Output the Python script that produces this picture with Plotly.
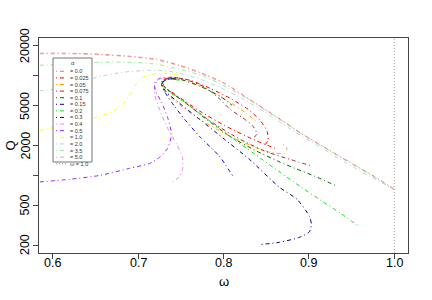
import math
import plotly.graph_objects as go

# ---------------- data ----------------
alpha_labels = ["0.0", "0.025", "0.05", "0.075", "0.1", "0.15", "0.2", "0.3",
                "0.4", "0.5", "1.0", "2.0", "3.5", "5.0"]
alpha_colors = ["#F07070", "#FF0000", "#FFA500", "#A52A2A", "#006400", "#00008B",
                "#00EE00", "#0000FF", "#EE82EE", "#A020F0", "#FFFF00", "#ADD8E6",
                "#90EE90", "#F4A0A0"]

omega_a0000 = [0.58, 0.6199, 0.6550, 0.6901, 0.7216, 0.7485, 0.7719, 0.8012, 0.8304, 0.8596, 0.8889, 0.9181, 0.9474, 0.9766, 1.0]
Q_a0000 = [16890, 16890, 16500, 15760, 14700, 12790, 10880, 8440, 5830, 4020, 2720, 1920, 1360, 980, 726]

omega_a0025 = [0.8604, 0.8370, 0.8053, 0.7725, 0.7468, 0.7304, 0.7281, 0.7397, 0.7608, 0.7842, 0.8077, 0.8288, 0.8428, 0.8510, 0.8521, 0.8463]
Q_a0025 = [1870, 2260, 3050, 4410, 6245, 7870, 9040, 9690, 9040, 7520, 5962, 4620, 3584, 2780, 2260, 1920]

omega_a0050 = [0.8697, 0.8744, 0.8709, 0.8545, 0.8310, 0.7983, 0.7667, 0.7432, 0.7292, 0.7281, 0.7374, 0.7550, 0.7784, 0.8018, 0.8252, 0.8404]
Q_a0050 = [2060, 1870, 1670, 1709, 2010, 2720, 3930, 5560, 7340, 8640, 9470, 9040, 7520, 5830, 4310, 3343]

omega_a0075 = [0.9013, 0.8779, 0.8487, 0.8194, 0.7901, 0.7667, 0.7468, 0.7316, 0.7281, 0.7374, 0.7550, 0.7784, 0.7959, 0.8077, 0.8217, 0.8346, 0.8393, 0.8334]
Q_a0075 = [1260, 1450, 1750, 2310, 3270, 4520, 6100, 7690, 8840, 9690, 9250, 7690, 5830, 4620, 3840, 3120, 2590, 2360]

omega_a0100 = [0.9306, 0.9071, 0.8837, 0.8662, 0.8370, 0.8077, 0.7784, 0.7550, 0.7351, 0.7281, 0.7351, 0.7491, 0.7725, 0.7959, 0.8100]
Q_a0100 = [796, 980, 1180, 1360, 1789, 2470, 3753, 5440, 7180, 8440, 9470, 9250, 7870, 6245, 5070]

omega_a0150 = [0.8444, 0.8655, 0.8889, 0.9006, 0.9029, 0.9006, 0.8861, 0.8655, 0.8304, 0.8012, 0.7719, 0.7485, 0.7333, 0.7275, 0.7333, 0.7462]
Q_a0150 = [203, 213, 239, 272, 323, 389, 576, 760, 1450, 2310, 3670, 5310, 6850, 8250, 9250, 9250]

omega_a0200 = [0.9567, 0.9364, 0.9130, 0.8896, 0.8662, 0.8370, 0.8077, 0.7784, 0.7550, 0.7351, 0.7281, 0.7339, 0.7491]
Q_a0200 = [316, 421, 569, 778, 1076, 1630, 2470, 3840, 5440, 7010, 8250, 9250, 9040]

omega_a0300 = [0.8105, 0.7953, 0.7719, 0.7544, 0.7427, 0.7322, 0.7275, 0.7333, 0.7485]
Q_a0300 = [1000, 1557, 2470, 3670, 4950, 6693, 8250, 9250, 9250]

omega_a0400 = [0.7404, 0.7485, 0.7520, 0.7520, 0.7450, 0.7333, 0.7251, 0.7193, 0.7193, 0.7251, 0.7368]
Q_a0400 = [854, 980, 1150, 1520, 2060, 3120, 4620, 6540, 8050, 9250, 9690]

omega_a0500 = [0.58, 0.6199, 0.6550, 0.6901, 0.7135, 0.7251, 0.7345, 0.7392, 0.7345, 0.7275, 0.7205, 0.7193, 0.7251, 0.7345]
Q_a0500 = [854, 915, 1000, 1180, 1320, 1520, 1870, 2590, 3840, 5440, 7010, 8440, 9470, 9690]

omega_a1000 = [0.58, 0.6082, 0.6316, 0.6550, 0.6725, 0.6842, 0.6924, 0.6982, 0.7053, 0.7158, 0.7310, 0.7485]
Q_a1000 = [2780, 3120, 3500, 3930, 4520, 5440, 6850, 8440, 9690, 10390, 10630, 10150]

omega_a2000 = [0.58, 0.6164, 0.6515, 0.6819, 0.7135, 0.7368, 0.7661, 0.7953, 0.8246, 0.8538, 0.8830, 0.9123, 0.9415, 0.9708, 1.0]
Q_a2000 = [7010, 7690, 9690, 10880, 11400, 11140, 9690, 7700, 5750, 4050, 2760, 1940, 1370, 985, 726]

omega_a3500 = [0.58, 0.6199, 0.6550, 0.6901, 0.7216, 0.7485, 0.7778, 0.8070, 0.8363, 0.8655, 0.8947, 0.9240, 0.9532, 0.9825, 1.0]
Q_a3500 = [12790, 13100, 13720, 13720, 13100, 11660, 9900, 7450, 5350, 3700, 2520, 1780, 1290, 890, 720]

omega_a5000 = [0.58, 0.6199, 0.6550, 0.6901, 0.7216, 0.7485, 0.7719, 0.8012, 0.8304, 0.8596, 0.8889, 0.9181, 0.9474, 0.9766, 1.0]
Q_a5000 = [16700, 16700, 16350, 15600, 14550, 12650, 10750, 8350, 5770, 3980, 2700, 1905, 1350, 972, 722]

omega_series = [omega_a0000, omega_a0025, omega_a0050, omega_a0075, omega_a0100, omega_a0150, omega_a0200,
                omega_a0300, omega_a0400, omega_a0500, omega_a1000, omega_a2000, omega_a3500, omega_a5000]
Q_series = [Q_a0000, Q_a0025, Q_a0050, Q_a0075, Q_a0100, Q_a0150, Q_a0200,
            Q_a0300, Q_a0400, Q_a0500, Q_a1000, Q_a2000, Q_a3500, Q_a5000]

x_ticks = [0.6, 0.7, 0.8, 0.9, 1.0]
x_ticktext = ["0.6", "0.7", "0.8", "0.9", "1.0"]
y_ticks = [200, 500, 1000, 2000, 5000, 10000, 20000]
y_ticktext = ["200", "500", "", "2000", "5000", "", "20000"]
omega_ref = 1.0

# ---------------- layout geometry ----------------
W, H = 432, 300
L, R, T, B = 39, 24, 38, 47
PW, PH = W - L - R, H - T - B
FONT = "Liberation Sans, Arial, Helvetica, sans-serif"
DASH = "1px,3px,4px,3px"


def px_x(px):
    return (px - L) / PW


def px_y(py):
    return (H - B - py) / PH


fig = go.Figure()
for lab, col, om, q in zip(alpha_labels, alpha_colors, omega_series, Q_series):
    fig.add_trace(go.Scatter(x=om, y=q, mode="lines", name="α = " + lab,
                             line=dict(color=col, width=1.0, dash=DASH, shape="spline", smoothing=0.6),
                             showlegend=False, hoverinfo="skip"))

shapes = []
# vertical dotted line at omega = 1
shapes.append(dict(type="line", xref="x", yref="paper", x0=omega_ref, x1=omega_ref, y0=0, y1=1,
                   line=dict(color="#A0A0A0", width=1, dash="1px,2px")))

annotations = []
# legend box (drawn manually for compact R-style legend)
shapes.append(dict(type="rect", xref="paper", yref="paper",
                   x0=px_x(53), x1=px_x(92), y0=px_y(162), y1=px_y(58),
                   line=dict(color="#777777", width=1), fillcolor="white", layer="above"))
annotations.append(dict(xref="paper", yref="paper", x=px_x(72.5), y=px_y(63), text="α",
                        showarrow=False, font=dict(family=FONT, size=6, color="#333"),
                        xanchor="center", yanchor="middle"))
entries = [(f"= {lab}", col, DASH) for lab, col in zip(alpha_labels, alpha_colors)]
entries.append(("ω = 1.0", "#A0A0A0", "1px,2px"))
for i, (txt, col, dash) in enumerate(entries):
    yy = 71.3 + i * 6.6
    shapes.append(dict(type="line", xref="paper", yref="paper", x0=px_x(56), x1=px_x(66),
                       y0=px_y(yy), y1=px_y(yy), line=dict(color=col, width=1, dash=dash), layer="above"))
    annotations.append(dict(xref="paper", yref="paper", x=px_x(68), y=px_y(yy), text=txt,
                            showarrow=False, font=dict(family=FONT, size=5.5, color="#333"),
                            xanchor="left", yanchor="middle"))

# y tick labels (R-style, rotated, parallel to axis)
for v, t in zip(y_ticks, y_ticktext):
    if t:
        annotations.append(dict(xref="paper", yref="y", x=px_x(25), y=math.log10(v), text=t,
                                showarrow=False, textangle=-90,
                                font=dict(family=FONT, size=12.5, color="black"),
                                xanchor="center", yanchor="middle"))
# x tick labels
for v, t in zip(x_ticks, x_ticktext):
    annotations.append(dict(xref="x", yref="paper", x=v, y=px_y(263), text=t, showarrow=False,
                            font=dict(family=FONT, size=12.5, color="black"),
                            xanchor="center", yanchor="middle"))

# axis titles
annotations.append(dict(xref="paper", yref="paper", x=0.5, y=px_y(281.5), text="ω", showarrow=False,
                        font=dict(family=FONT, size=13, color="black"), xanchor="center", yanchor="middle"))
annotations.append(dict(xref="paper", yref="paper", x=px_x(10), y=0.5, text="Q", showarrow=False,
                        textangle=-90, font=dict(family=FONT, size=13, color="black"),
                        xanchor="center", yanchor="middle"))

fig.update_layout(
    width=W, height=H,
    margin=dict(l=L, r=R, t=T, b=B, autoexpand=False),
    paper_bgcolor="white", plot_bgcolor="white",
    font=dict(family=FONT, size=12, color="black"),
    shapes=shapes, annotations=annotations,
    showlegend=False,
)
fig.update_xaxes(range=[0.6 - 0.016, 1.0 + 0.016], tickvals=x_ticks, showticklabels=False,
                 showgrid=False, zeroline=False, showline=True, mirror=True, linecolor="#444",
                 linewidth=1, ticks="outside", ticklen=5, tickcolor="#444")
fig.update_yaxes(type="log", range=[math.log10(200) - 0.08, math.log10(20000) + 0.08],
                 tickvals=y_ticks, showticklabels=False,
                 showgrid=False, zeroline=False, showline=True, mirror=True, linecolor="#444",
                 linewidth=1, ticks="outside", ticklen=5, tickcolor="#444")

fig.write_html("out.html", config={"displayModeBar": False})

# remove the browser's default 8px body margin so the figure sits at the page origin
with open("out.html", "r", encoding="utf-8") as fh:
    html = fh.read()
html = html.replace("<body>", '<body style="margin:0;padding:0;overflow:hidden">', 1)
with open("out.html", "w", encoding="utf-8") as fh:
    fh.write(html)
